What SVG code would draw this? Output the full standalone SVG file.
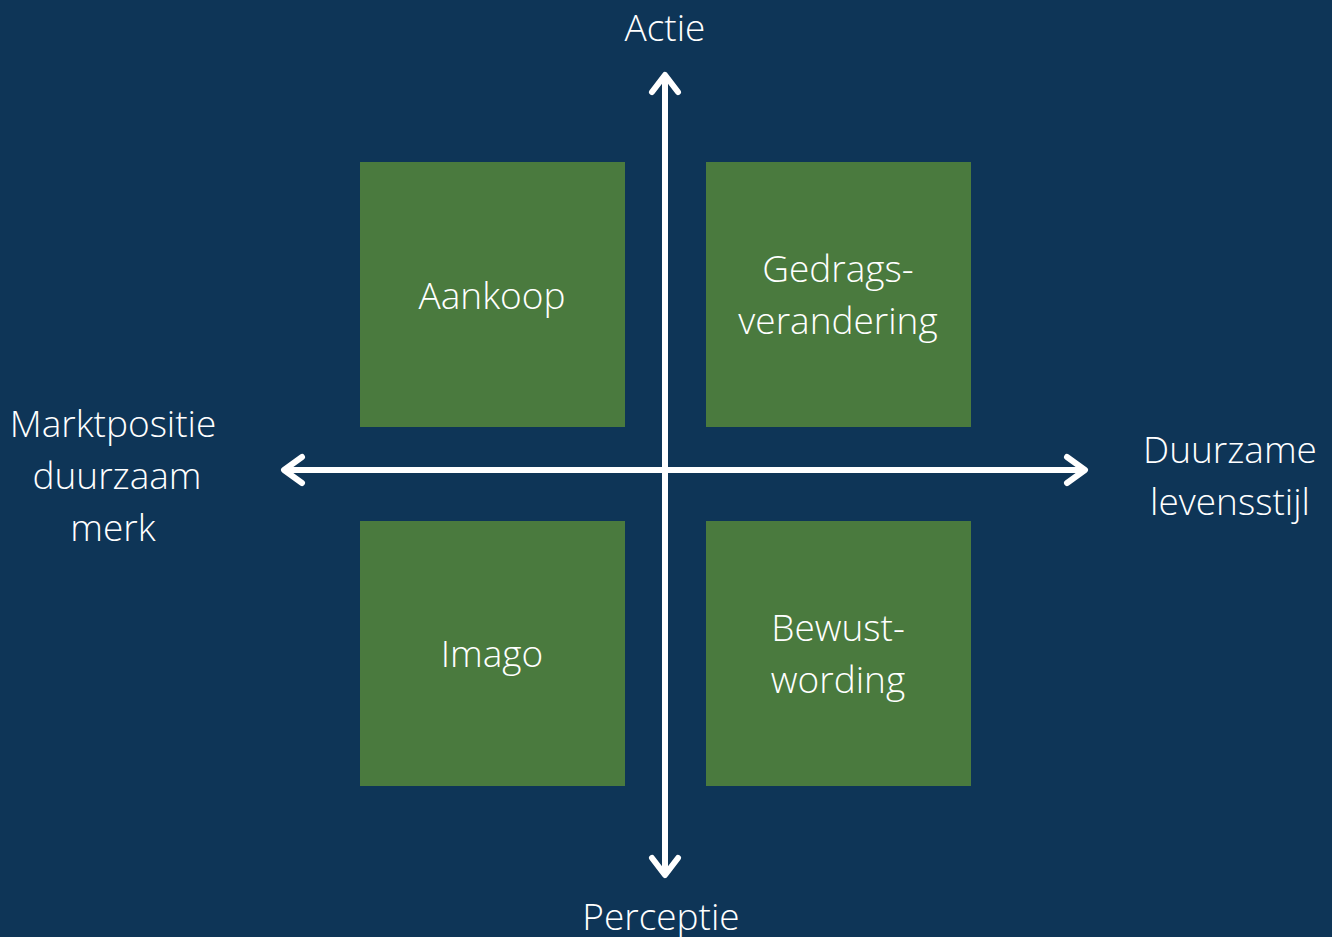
<svg xmlns="http://www.w3.org/2000/svg" width="1332" height="937" viewBox="0 0 1332 937">
<style>
.bg{fill:#0E3557}
.box{fill:#4A7A3E}
.t{font-family:"Open Sans","Noto Sans",sans-serif;font-weight:300;font-size:37px;fill:#FFFFFF;text-anchor:middle}
.ax{stroke:#FFFFFF;stroke-width:6;fill:none;stroke-linecap:round;stroke-linejoin:round}
</style>
<rect class="bg" x="0" y="0" width="1332" height="937"/>
<g id="connectors">
<line class="ax" x1="665" y1="77" x2="665" y2="872"/>
<line class="ax" x1="286" y1="470" x2="1082" y2="470"/>
<polyline class="ax" points="652,92 665,75 678,92"/>
<polyline class="ax" points="652,858 665,875 678,858"/>
<polyline class="ax" points="302,457 284,470 302,483"/>
<polyline class="ax" points="1067,457 1085,470 1067,483"/>
</g>
<g id="node-aankoop"><rect class="box" x="360" y="162" width="265" height="265"/><text class="t" x="492" y="309">Aankoop</text></g>
<g id="node-gedrag"><rect class="box" x="706" y="162" width="265" height="265"/><text class="t" x="838" y="282">Gedrags-</text><text class="t" x="838" y="334">verandering</text></g>
<g id="node-imago"><rect class="box" x="360" y="521" width="265" height="265"/><text class="t" x="492" y="667">Imago</text></g>
<g id="node-bewust"><rect class="box" x="706" y="521" width="265" height="265"/><text class="t" x="838" y="641">Bewust-</text><text class="t" x="838" y="693">wording</text></g>
<g id="label-actie"><text class="t" x="665" y="41">Actie</text></g>
<g id="label-perceptie"><text class="t" x="661" y="930">Perceptie</text></g>
<g id="label-markt"><text class="t" x="113" y="437">Marktpositie</text><text class="t" x="117" y="489">duurzaam</text><text class="t" x="113" y="541">merk</text></g>
<g id="label-duurzaam"><text class="t" x="1230" y="463">Duurzame</text><text class="t" x="1230" y="515">levensstijl</text></g>
</svg>
